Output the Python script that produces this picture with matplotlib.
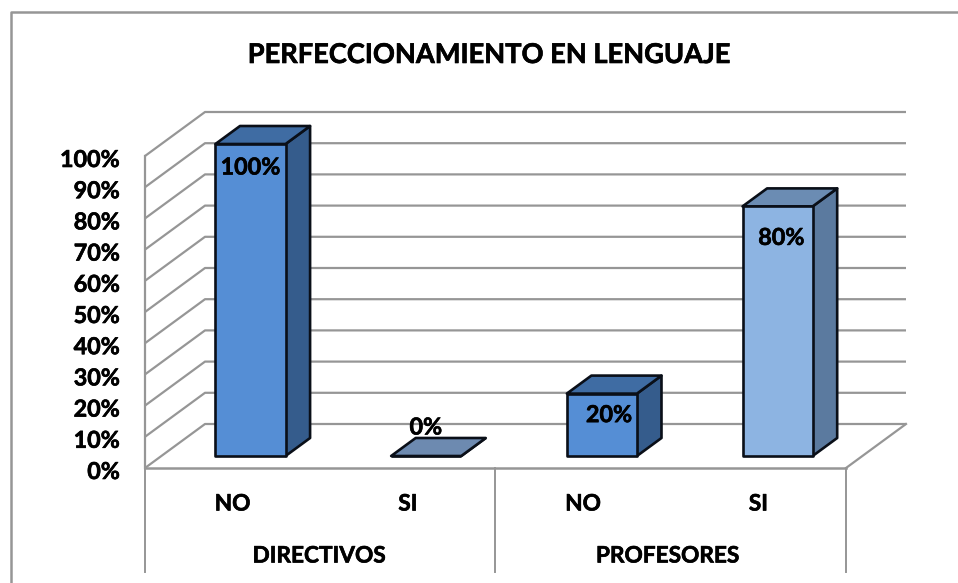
import matplotlib
matplotlib.use("Agg")
import matplotlib.pyplot as plt
from matplotlib.patches import Polygon
import matplotlib.patheffects as pe

plt.rcParams['font.family'] = ['Lato', 'DejaVu Sans']

title = "PERFECCIONAMIENTO EN LENGUAJE"
groups = ["DIRECTIVOS", "PROFESORES"]
categories = ["NO", "SI", "NO", "SI"]
values = [100, 0, 20, 80]
labels = ["100%", "0%", "20%", "80%"]
ticks = list(range(0, 101, 10))
front_colors = ["#558ED5", "#6D8AB0", "#558ED5", "#8DB4E2"]
top_colors = ["#3F6CA3", "#6D8AB0", "#3F6CA3", "#6B8CB3"]
side_colors = ["#355C8C", "#6D8AB0", "#355C8C", "#5B7A9F"]

W, H = 958, 583
X0, CAT, Y0, PCT = 145.0, 175.25, 468.0, 3.12
fig = plt.figure(figsize=(W / 100, H / 100), dpi=100)
ax = fig.add_axes([0, 0, 1, 1])
ax.set_xlim(-X0 / CAT - 0.5, (W - X0) / CAT - 0.5)
ax.set_ylim((Y0 - H) / PCT, Y0 / PCT)
ax.axis("off")

DX, DY = 60 / CAT, 44 / PCT
GRAY = "#969696"
STROKE = [pe.withStroke(linewidth=0.45, foreground="black")]


def proj(x, v, d=0.0):
    return x + d * DX, v + d * DY


def label(x, y, s, size, **kw):
    ax.text(x, y, s, ha=kw.pop("ha", "center"), va="center", fontsize=size, fontweight="bold",
            color="black", path_effects=STROKE, zorder=6, **kw)


# grid walls
for t in ticks:
    a, b, c = proj(-0.5, t), proj(-0.5, t, 1), proj(3.5, t, 1)
    ax.plot([a[0], b[0], c[0]], [a[1], b[1], c[1]], color=GRAY, lw=1.6, zorder=1, solid_capstyle="butt")
    label(-0.5 - 25 / CAT, t - 4.5 / PCT, f"{t}%", 16.8, ha="right")
ax.plot([-0.5, -0.5], [0, 100], color=GRAY, lw=1.6, zorder=1)
ax.plot([-0.5, 3.5], [0, 0], color=GRAY, lw=1.8, zorder=2)
a, b = proj(3.5, 0), proj(3.5, 0, 1)
ax.plot([a[0], b[0]], [a[1], b[1]], color=GRAY, lw=1.6, zorder=2)

# category separators below the floor
bottom = (Y0 - 572) / PCT
mid_groups = [0.5, 2.5]
for x in [-0.5, 1.5, 3.5]:
    ax.plot([x, x], [0, bottom], color=GRAY, lw=1.4, zorder=1)

# 3D bars
hw, d0, d1 = 0.2, 12 / 44, 30 / 44
spread = 175.7 / CAT
shift = 1.5 / CAT
label_dx = [18, 18, 26, 23]
label_dy = [-12, 40, -10, -20]
for i, v in enumerate(values):
    cx = i * spread + shift
    xl, xr = cx - hw, cx + hw
    front = [proj(xl, 0, d0), proj(xr, 0, d0), proj(xr, v, d0), proj(xl, v, d0)]
    top = [proj(xl, v, d0), proj(xr, v, d0), proj(xr, v, d1), proj(xl, v, d1)]
    side = [proj(xr, 0, d0), proj(xr, 0, d1), proj(xr, v, d1), proj(xr, v, d0)]
    for pts, col in ((side, side_colors[i]), (top, top_colors[i]), (front, front_colors[i])):
        ax.add_patch(Polygon(pts, closed=True, facecolor=col, edgecolor="#0A0F18", lw=1.9, joinstyle="round", zorder=3))
    label(i + label_dx[i] / CAT, v + label_dy[i] / PCT, labels[i], 16.8)

for i, c in enumerate(categories):
    label(i, -36 / PCT, c, 16.3)
for x, g, dx in zip(mid_groups, groups, [-1, -3]):
    label(x + dx / CAT, -88 / PCT, g, 16.3)

label((490 - X0) / CAT - 0.5, (468 - 55) / PCT, title, 19.6)

# chart frame
fl = (11 - X0) / CAT - 0.5
ft = (Y0 - 12) / PCT
fb = (Y0 - H) / PCT
fr = (W - X0) / CAT - 0.5
ax.plot([fl, fl, fr], [fb, ft, ft], color=GRAY, lw=1.8, zorder=1)

fig.savefig("out.png", dpi=100)
